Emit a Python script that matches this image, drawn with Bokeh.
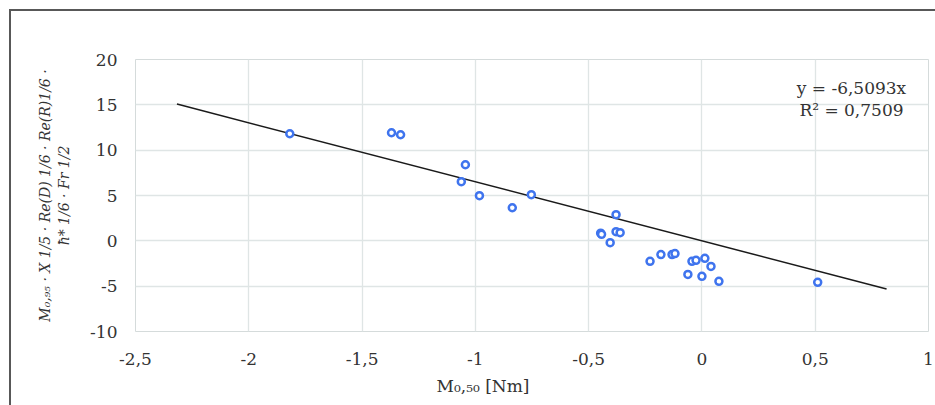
from bokeh.plotting import figure
from bokeh.models import Range1d, FixedTicker, CustomJSTickFormatter, Label, Title, ColumnDataSource
from bokeh.embed import file_html
from bokeh.resources import INLINE

# data
m050 = [-1.819, -1.370, -1.330, -1.044, -1.062, -0.982, -0.837, -0.753, -0.379,
        -0.447, -0.443, -0.405, -0.379, -0.361, -0.229, -0.181, -0.132, -0.119,
        -0.044, -0.026, 0.013, 0.040, -0.062, 0.000, 0.075, 0.511]
combo = [11.81, 11.92, 11.70, 8.39, 6.52, 4.98, 3.65, 5.09, 2.88,
         0.85, 0.72, -0.20, 1.01, 0.90, -2.26, -1.52, -1.52, -1.41,
         -2.26, -2.15, -1.93, -2.82, -3.70, -3.92, -4.47, -4.58]
slope = -6.5093
r2 = 0.7509
trend_x = [-2.317, 0.815]
trend_y = [slope * v for v in trend_x]
x_ticks = [-2.5, -2, -1.5, -1, -0.5, 0, 0.5, 1]
y_ticks = [-10, -5, 0, 5, 10, 15, 20]

FONT = "DejaVu Serif"
TXT = "#333333"

p = figure(width=935, height=405, output_backend="svg", toolbar_location=None,
           x_range=Range1d(-2.5, 1), y_range=Range1d(-10, 20),
           min_border_left=135, min_border_right=7, min_border_top=59, min_border_bottom=74)
p.border_fill_color = None
p.background_fill_color = "white"
p.outline_line_color = "#d5dbdb"
p.styles = {"box-shadow": "inset 9px 9px 0 0 #ffffff, inset 11px 11px 0 0 #585858"}

for ax in (p.xaxis[0], p.yaxis[0]):
    ax.axis_line_color = None
    ax.major_tick_line_color = None
    ax.minor_tick_line_color = None
    ax.major_label_text_font = FONT
    ax.major_label_text_font_size = "17px"
    ax.major_label_text_color = TXT

fmt = CustomJSTickFormatter(code="return tick.toString().replace('.', ',').replace('\u2212','-');")
p.xaxis.ticker = FixedTicker(ticks=x_ticks)
p.yaxis.ticker = FixedTicker(ticks=y_ticks)
p.xaxis.formatter = fmt
p.yaxis.formatter = fmt
p.xaxis.major_label_standoff = 15
p.yaxis.major_label_standoff = 12

p.yaxis.axis_label = "M\u2080,\u2089\u2085 \u00b7 X 1/5 \u00b7 Re(D) 1/6 \u00b7 Re(R)1/6 \u00b7\n\u0127* 1/6 \u00b7 Fr 1/2"
p.yaxis.axis_label_text_font = FONT
p.yaxis.axis_label_text_font_style = "italic"
p.yaxis.axis_label_text_font_size = "14px"
p.yaxis.axis_label_text_color = TXT
p.yaxis.axis_label_standoff = 15

p.xgrid.ticker = FixedTicker(ticks=x_ticks)
p.ygrid.ticker = FixedTicker(ticks=y_ticks)
p.grid.grid_line_color = "#dfe5e5"
p.grid.grid_line_width = 1.3

p.line(trend_x, trend_y, line_color="#1a1a1a", line_width=1.5)
src = ColumnDataSource(dict(x=m050, y=combo))
p.scatter("x", "y", source=src, marker="circle", size=7, line_width=2.5,
          line_color="#3f74ee", fill_color="white")

p.add_layout(Label(x=0.66, y=16.87, text="y = -6,5093x", text_align="center",
                   text_baseline="middle", text_font=FONT, text_font_size="17px",
                   text_color=TXT))
p.add_layout(Label(x=0.66, y=14.45, text="R\u00b2 = " + str(r2).replace('.', ','),
                   text_align="center", text_baseline="middle", text_font=FONT,
                   text_font_size="17px", text_color=TXT))
p.add_layout(Title(text="M\u2080,\u2085\u2080 [Nm]", align="left", offset=301,
                   text_font=FONT, text_font_size="17px", text_font_style="normal",
                   text_color=TXT, standoff=12), "below")

open("out.html", "w").write(file_html(p, INLINE))
